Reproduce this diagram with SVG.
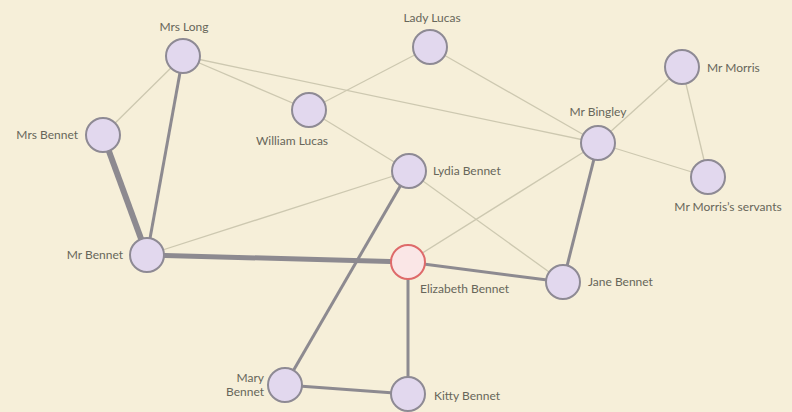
<svg xmlns="http://www.w3.org/2000/svg" width="792" height="412" viewBox="0 0 792 412">
<style>
.bg{fill:#f6efd9}
.n{fill:#e2d8ee;stroke:#8e8a94;stroke-width:2}
.hl{fill:#fae6e6;stroke:#de6a6a;stroke-width:2}
.t{font-family:Lato,"Open Sans",sans-serif;font-size:12px;fill:#67665a}
.e1{stroke:#cdc8b0;stroke-width:1.3;fill:none}
.e2{stroke:#8d8a90;stroke-width:3;fill:none}
.e3{stroke:#8d8a90;stroke-width:5;fill:none}
.e4{stroke:#8d8a90;stroke-width:6;fill:none}
</style>
<rect class="bg" x="0" y="0" width="792" height="412"/>
<g id="connectors">
<line class="e1" x1="183" y1="56" x2="103" y2="135"/>
<line class="e1" x1="183" y1="56" x2="309" y2="110"/>
<line class="e1" x1="183" y1="56" x2="598" y2="143"/>
<line class="e1" x1="309" y1="110" x2="430" y2="47"/>
<line class="e1" x1="309" y1="110" x2="409" y2="171"/>
<line class="e1" x1="430" y1="47" x2="598" y2="143"/>
<line class="e1" x1="598" y1="143" x2="682" y2="67"/>
<line class="e1" x1="598" y1="143" x2="708" y2="177"/>
<line class="e1" x1="682" y1="67" x2="708" y2="177"/>
<line class="e1" x1="598" y1="143" x2="408" y2="262"/>
<line class="e1" x1="409" y1="171" x2="563" y2="282"/>
<line class="e1" x1="147" y1="255" x2="409" y2="171"/>
<line class="e2" x1="183" y1="56" x2="147" y2="255"/>
<line class="e4" x1="103" y1="135" x2="147" y2="255"/>
<line class="e3" x1="147" y1="255" x2="408" y2="262"/>
<line class="e2" x1="598" y1="143" x2="563" y2="282"/>
<line class="e2" x1="409" y1="171" x2="285" y2="385"/>
<line class="e2" x1="408" y1="262" x2="563" y2="282"/>
<line class="e2" x1="408" y1="262" x2="408" y2="394"/>
<line class="e2" x1="285" y1="385" x2="408" y2="394"/>
</g>
<g id="mrs-long"><circle class="n" cx="183" cy="56" r="17"/><text class="t" x="184" y="31" text-anchor="middle">Mrs Long</text></g>
<g id="mrs-bennet"><circle class="n" cx="103" cy="135" r="17"/><text class="t" x="78" y="139" text-anchor="end">Mrs Bennet</text></g>
<g id="william-lucas"><circle class="n" cx="309" cy="110" r="17"/><text class="t" x="292" y="145" text-anchor="middle">William Lucas</text></g>
<g id="lady-lucas"><circle class="n" cx="430" cy="47" r="17"/><text class="t" x="432" y="22" text-anchor="middle">Lady Lucas</text></g>
<g id="mr-morris"><circle class="n" cx="682" cy="67" r="17"/><text class="t" x="707" y="72">Mr Morris</text></g>
<g id="mr-bingley"><circle class="n" cx="598" cy="143" r="17"/><text class="t" x="598" y="116" text-anchor="middle">Mr Bingley</text></g>
<g id="lydia-bennet"><circle class="n" cx="409" cy="171" r="17"/><text class="t" x="433" y="175">Lydia Bennet</text></g>
<g id="mr-morris-servants"><circle class="n" cx="708" cy="177" r="17"/><text class="t" x="728" y="211" text-anchor="middle">Mr Morris’s servants</text></g>
<g id="mr-bennet"><circle class="n" cx="147" cy="255" r="17"/><text class="t" x="123" y="259" text-anchor="end">Mr Bennet</text></g>
<g id="elizabeth-bennet"><circle class="hl" cx="408" cy="262" r="17"/><text class="t" x="420" y="293">Elizabeth Bennet</text></g>
<g id="jane-bennet"><circle class="n" cx="563" cy="282" r="17"/><text class="t" x="588" y="286">Jane Bennet</text></g>
<g id="mary-bennet"><circle class="n" cx="285" cy="385" r="17"/><text class="t" x="264" y="382" text-anchor="end">Mary</text><text class="t" x="264" y="396" text-anchor="end">Bennet</text></g>
<g id="kitty-bennet"><circle class="n" cx="408" cy="394" r="17"/><text class="t" x="434" y="400">Kitty Bennet</text></g>
</svg>
